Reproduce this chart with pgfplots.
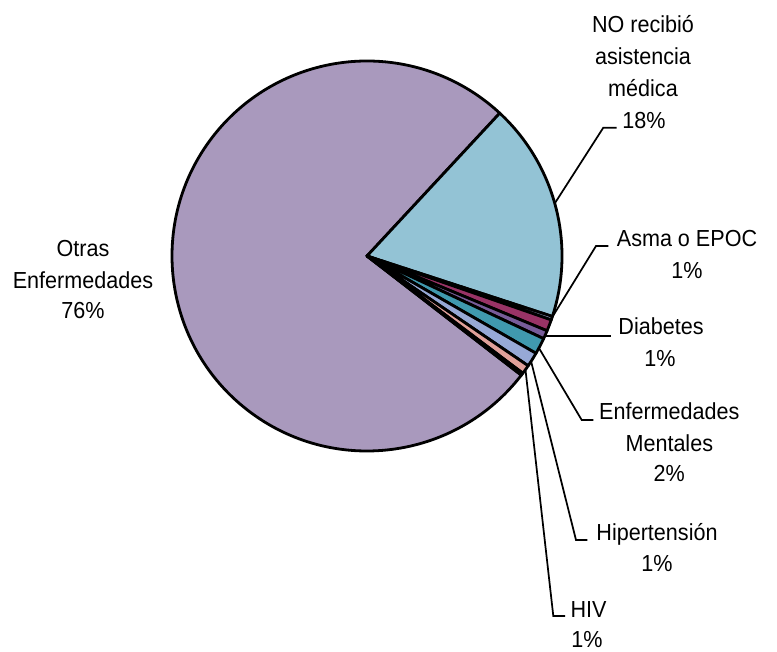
\documentclass[border=0pt]{standalone}
\usepackage{pgfplots}
\pgfplotsset{compat=1.18}
\usepackage{fontspec}
\setmainfont{Liberation Sans}[FakeStretch=0.93]

\definecolor{cOtras}{HTML}{A999BD}
\definecolor{cNO}{HTML}{93C3D5}
\definecolor{cSliver}{HTML}{A6B4DC}
\definecolor{cAsma}{HTML}{993366}
\definecolor{cDiab}{HTML}{775C99}
\definecolor{cMent}{HTML}{4099AE}
\definecolor{cHip}{HTML}{97A9D6}
\definecolor{cHIV}{HTML}{E0A09A}
\definecolor{cBlk}{HTML}{202020}

% slice shares in percent (clockwise from the top edge of "NO recibio")
\def\vNO{18.1}
\def\vSliver{0.3}
\def\vAsma{0.95}
\def\vDiab{0.7}
\def\vMent{1.35}
\def\vHip{1.2}
\def\vHIV{0.75}
\def\vBlk{0.2}
\def\vOtras{76.45}

\pgfmathsetmacro\aA{47.1}
\pgfmathsetmacro\aB{\aA-3.6*\vNO}
\pgfmathsetmacro\aC{\aB-3.6*\vSliver}
\pgfmathsetmacro\aD{\aC-3.6*\vAsma}
\pgfmathsetmacro\aE{\aD-3.6*\vDiab}
\pgfmathsetmacro\aF{\aE-3.6*\vMent}
\pgfmathsetmacro\aG{\aF-3.6*\vHip}
\pgfmathsetmacro\aH{\aG-3.6*\vHIV}
\pgfmathsetmacro\aI{\aH-3.6*\vBlk}
\pgfmathsetmacro\aJ{\aI-3.6*\vOtras}

\newcommand{\wedgeslice}[3]{%
  \filldraw[fill=#3, draw=black, line width=2.1pt, line join=round]
    (axis cs:367,396) -- ++(#1:146.25pt) arc[start angle=#1, end angle=#2, radius=146.25pt] -- cycle;}

\newcommand{\lbl}[3]{\node[anchor=base, inner sep=0pt] at (axis cs:#1,#2) {#3};}

\begin{document}
\begin{tikzpicture}
\begin{axis}[
  x=0.75pt, y=0.75pt,
  xmin=0, xmax=777, ymin=0, ymax=652,
  hide axis, clip=false,
  font=\fontsize{17.4}{20}\selectfont,
]
\wedgeslice{\aI}{\aJ}{cOtras}
\wedgeslice{\aA}{\aB}{cNO}
\wedgeslice{\aB}{\aC}{cSliver}
\wedgeslice{\aC}{\aD}{cAsma}
\wedgeslice{\aD}{\aE}{cDiab}
\wedgeslice{\aE}{\aF}{cMent}
\wedgeslice{\aF}{\aG}{cHip}
\wedgeslice{\aG}{\aH}{cHIV}
\wedgeslice{\aH}{\aI}{cBlk}

% leader lines
\addplot[black, line width=1.3pt, mark=none] coordinates {(555,449) (603.3,524.3) (616.7,524.3)};
\addplot[black, line width=1.3pt, mark=none] coordinates {(550.5,332) (596,406) (608.3,406)};
\addplot[black, line width=1.3pt, mark=none] coordinates {(545,316) (610.7,316)};
\addplot[black, line width=1.3pt, mark=none] coordinates {(539.5,303) (581.7,232) (593.3,232)};
\addplot[black, line width=1.3pt, mark=none] coordinates {(531,291) (576,112) (587.3,112)};
\addplot[black, line width=1.3pt, mark=none] coordinates {(525.5,282) (553.3,36) (565,36)};

% labels
\lbl{643}{619.3}{NO recibió}
\lbl{643}{587}{asistencia}
\lbl{643}{555.3}{médica}
\lbl{644}{523.7}{18\%}

\lbl{687}{405.3}{Asma o EPOC}
\lbl{687}{373.7}{1\%}

\lbl{661}{317}{Diabetes}
\lbl{660}{285.3}{1\%}

\lbl{669.3}{232}{Enfermedades}
\lbl{669.3}{200.3}{Mentales}
\lbl{669.3}{170.3}{2\%}

\lbl{657}{111.3}{Hipertensión}
\lbl{657}{80.3}{1\%}

\lbl{588.5}{34}{HIV}
\lbl{587}{4}{1\%}

\lbl{83}{395.3}{Otras}
\lbl{83}{363.7}{Enfermedades}
\lbl{83}{333.7}{76\%}
\end{axis}
\pgfresetboundingbox
\path (0,0) rectangle (582.75pt,489pt);
\end{tikzpicture}
\end{document}
